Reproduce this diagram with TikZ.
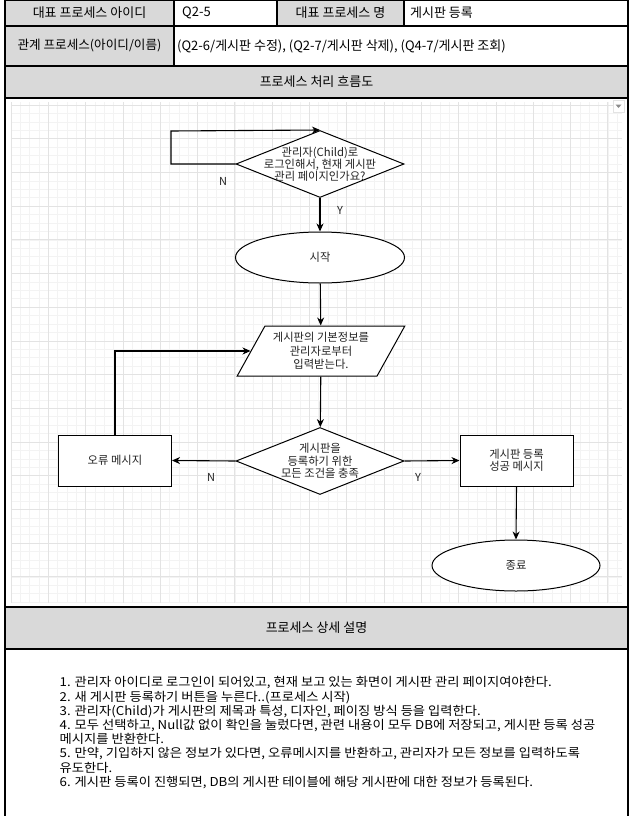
\documentclass[tikz,border=0pt]{standalone}
\usepackage{fontspec}
\setmainfont{Noto Sans CJK KR}
\newfontfamily\descfont[FakeStretch=1.08]{Noto Sans CJK KR}
\usetikzlibrary{shapes.geometric,arrows.meta}
\definecolor{hdr}{HTML}{D9D9D9}
\definecolor{gmaj}{HTML}{E3E3E3}
\definecolor{gmin}{HTML}{F3F3F3}
\definecolor{ink}{HTML}{222222}
\begin{document}
\begin{tikzpicture}[x=1pt,y=-1pt,
  border/.style={draw=black, line width=1.4pt},
  ttext/.style={font=\fontsize{13}{15}\selectfont, text=black, inner sep=0pt},
  ftext/.style={font=\fontsize{11.3}{12.5}\selectfont, align=center, text=ink},
  shp/.style={draw=black, line width=1pt, fill=white, inner sep=0pt},
  arr/.style={draw=black, line width=1.1pt, -{Stealth[length=8pt,width=7pt,inset=2.5pt]}},
  lbl/.style={font=\fontsize{11}{12}\selectfont, text=ink, inner sep=0pt},
]
\useasboundingbox (0,0) rectangle (634,816);
\fill[white] (0,0) rectangle (634,816);
% header fills
\fill[hdr] (5,0) rectangle (174,26);
\fill[hdr] (277,0) rectangle (404,26);
\fill[hdr] (5,26) rectangle (174,66);
\fill[hdr] (5,66) rectangle (628,98);
\fill[hdr] (5,607) rectangle (628,649);
% grid
\begin{scope}
\clip (11,102) rectangle (622,603);
\foreach \i in {0,...,65} \draw[gmin, line width=0.6pt] (11+\i*9.325,102) -- (11+\i*9.325,603);
\foreach \j in {-1,...,59} \draw[gmin, line width=0.6pt] (11,105+\j*8.425) -- (622,105+\j*8.425);
\foreach \i in {0,...,16} \draw[gmaj, line width=0.8pt] (11+\i*37.3,102) -- (11+\i*37.3,603);
\foreach \j in {0,...,14} \draw[gmaj, line width=0.8pt] (11,105+\j*33.7) -- (622,105+\j*33.7);
\end{scope}
% dropdown icon
\draw[gmaj, line width=0.8pt, fill=white] (613,100) rectangle (624,112);
\fill[black!45] (615.5,104.5) -- (621.5,104.5) -- (618.5,108) -- cycle;
% table borders
\draw[border] (5,0.7) -- (628,0.7);
\draw[border] (5,0) -- (5,816);
\draw[border] (628,0) -- (628,816);
\foreach \yy in {26,66,98,607,649} \draw[border] (5,\yy) -- (628,\yy);
\draw[border] (174,0) -- (174,66);
\draw[border] (277,0) -- (277,26);
\draw[border] (404,0) -- (404,26);
% table texts
\node[ttext] (t1) at (89.5,13) {대표 프로세스 아이디};
\node[ttext, anchor=west] (t2) at (182,13) {Q2-5};
\node[ttext] (t3) at (340.5,13) {대표 프로세스 명};
\node[ttext, anchor=west] (t4) at (410,13) {게시판 등록};
\node[ttext, font=\fontsize{12.6}{14}\selectfont] (t5) at (89.5,46) {관계 프로세스(아이디/이름)};
\node[ttext, anchor=west] (t6) at (177,46) {(Q2-6/게시판 수정), (Q2-7/게시판 삭제), (Q4-7/게시판 조회)};
\node[ttext] (t7) at (316.5,82) {프로세스 처리 흐름도};
\node[ttext] (t8) at (316.5,628) {프로세스 상세 설명};
% flowchart nodes
\node[shp, diamond, minimum width=168pt, minimum height=67pt,
  label={[ftext, font=\fontsize{11.3}{11.5}\selectfont]center:{관리자(Child)로\\로그인해서, 현재 게시판\\관리 페이지인가요?}}] (d1) at (320,164) {};
\node[shp, ellipse, minimum width=169pt, minimum height=51pt, ftext] (start) at (320,257.5) {시작};
\node[shp, trapezium, trapezium left angle=57.4, trapezium right angle=122.6, trapezium stretches=true,
  minimum width=168pt, minimum height=50pt, ftext, font=\fontsize{11.3}{13.5}\selectfont] (para) at (321,351) {게시판의 기본정보를\\관리자로부터\\입력받는다.};
\node[shp, diamond, minimum width=168pt, minimum height=67pt,
  label={[ftext]center:{게시판을\\등록하기 위한\\모든 조건을 충족}}] (d2) at (320,461) {};
\node[shp, minimum width=113pt, minimum height=51pt, ftext] (err) at (115,460.5) {오류 메시지};
\node[shp, minimum width=113pt, minimum height=51pt, ftext] (ok) at (516.5,460.5) {게시판 등록\\성공 메시지};
\node[shp, ellipse, minimum width=168pt, minimum height=51pt, ftext] (end) at (516,565.5) {종료};
\coordinate (loop) at (171,131);
% connectors
\draw[arr] (d1.west) -| (loop) -- (d1.north);
\draw[arr] (d1.south) -- (start.north);
\draw[arr] (start) -- (para);
\draw[arr] (para) -- (d2);
\draw[arr] (d2.west) -- (err.east);
\draw[arr] (d2.east) -- (ok.west);
\draw[arr] (ok.south) -- (end.north);
\draw[arr] (err.north) |- (para.west);
% labels
\node[lbl] (n1) at (223,181) {N};
\node[lbl] (y1) at (340,210) {Y};
\node[lbl] (n2) at (211,477) {N};
\node[lbl] (y2) at (418,477) {Y};
% description
\node[anchor=north west, inner sep=0pt, align=left, text=black,
  font=\descfont\fontsize{12.3}{14.2}\selectfont] (desc) at (59.5,676.5) {1. 관리자 아이디로 로그인이 되어있고, 현재 보고 있는 화면이 게시판 관리 페이지여야한다.\\
2. 새 게시판 등록하기 버튼을 누른다..(프로세스 시작)\\
3. 관리자(Child)가 게시판의 제목과 특성, 디자인, 페이징 방식 등을 입력한다.\\
4. 모두 선택하고, Null값 없이 확인을 눌렀다면, 관련 내용이 모두 DB에 저장되고, 게시판 등록 성공\\
메시지를 반환한다.\\
5. 만약, 기입하지 않은 정보가 있다면, 오류메시지를 반환하고, 관리자가 모든 정보를 입력하도록\\
유도한다.\\
6. 게시판 등록이 진행되면, DB의 게시판 테이블에 해당 게시판에 대한 정보가 등록된다.};
\end{tikzpicture}
\end{document}
